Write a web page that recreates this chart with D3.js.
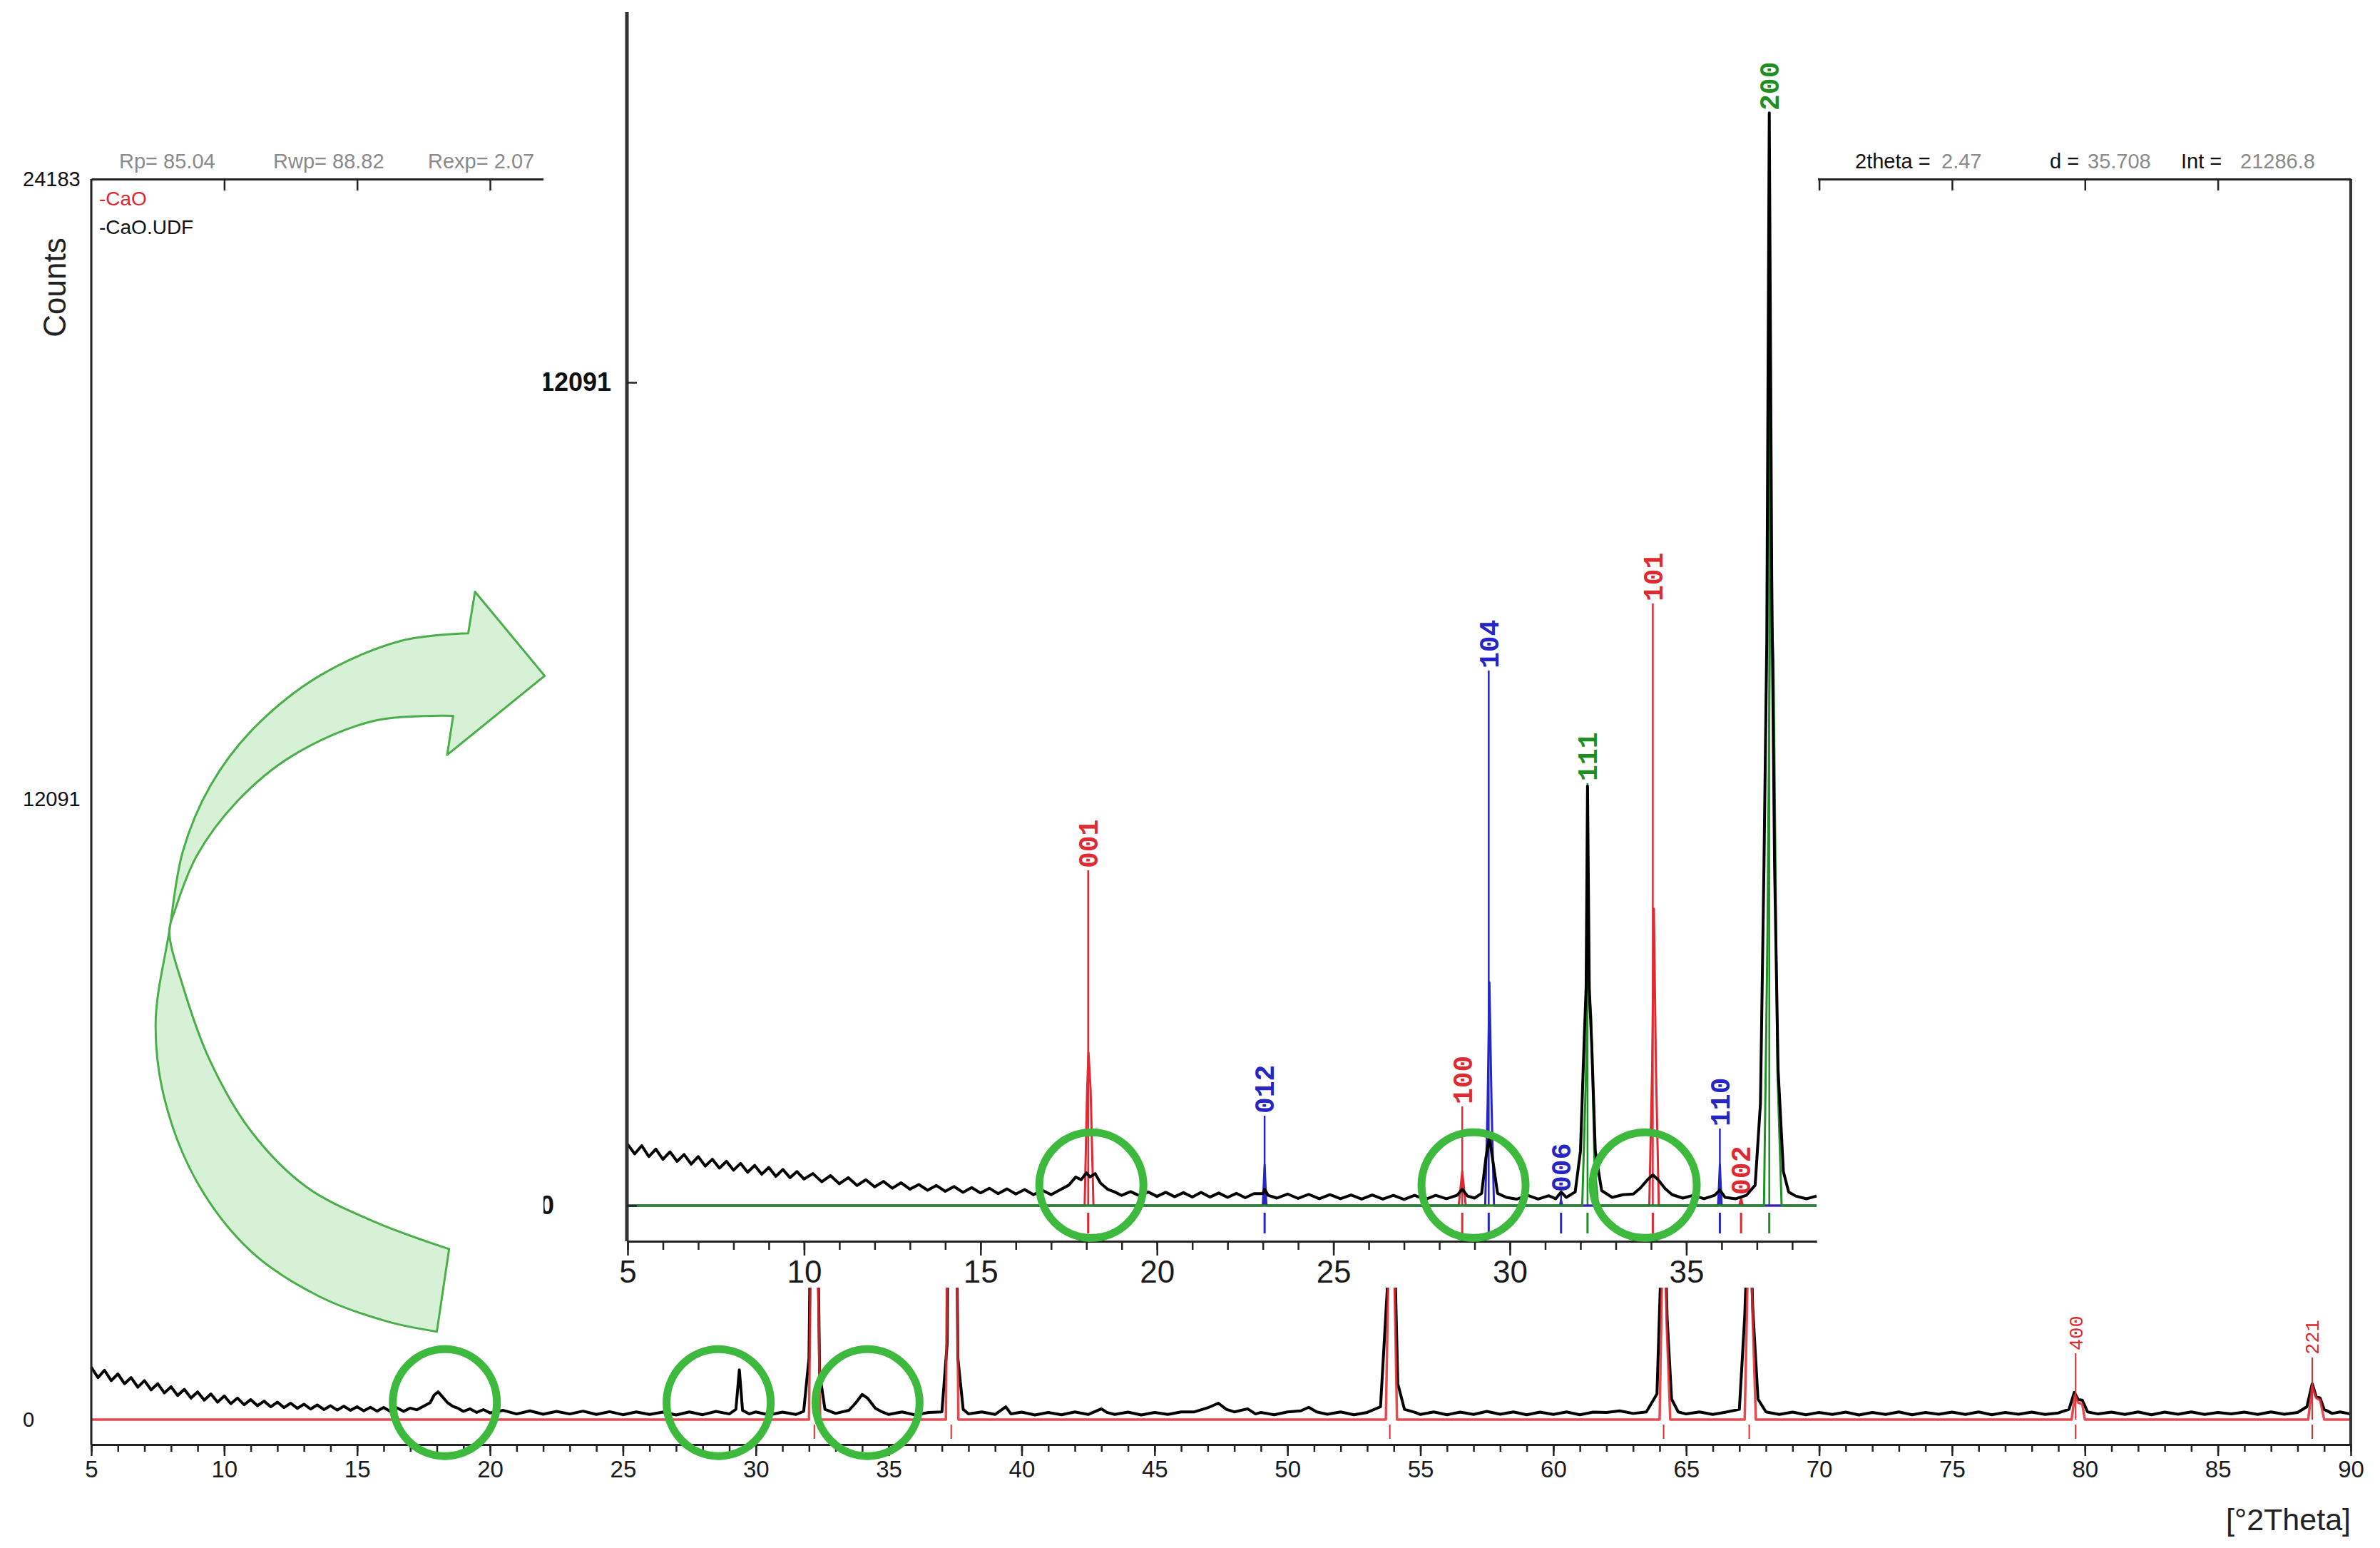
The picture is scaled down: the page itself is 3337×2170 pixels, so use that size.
<!DOCTYPE html>
<html><head><meta charset="utf-8">
<script src="https://cdn.jsdelivr.net/npm/d3@7"></script>
<style>html,body{margin:0;padding:0;background:#fff;} svg{display:block;}</style>
</head><body>
<svg id="chart" width="3337" height="2170"></svg>
<script>
// ---------------- DATA ----------------
// Main pattern (5-90 deg 2theta), observed counts [2theta, counts]
const mainObserved = [
[5.0,1020],[5.25,820],[5.5,960],[5.75,760],[6.0,890],[6.25,700],[6.5,820],[6.75,630],[7.0,760],[7.25,580],[7.5,700],[7.75,520],[8.0,640],[8.25,470],[8.5,590],[8.75,420],[9.0,540],[9.25,380],[9.5,500],[9.75,340],[10.0,460],[10.25,310],[10.5,420],[10.75,290],[11.0,390],[11.25,270],[11.5,360],[11.75,250],[12.0,340],[12.25,235],[12.5,320],[12.75,220],[13.0,300],[13.25,205],[13.5,285],[13.75,195],[14.0,270],[14.25,185],[14.5,260],[14.75,180],[15.0,250],[15.25,170],[15.5,240],[15.75,165],[16.0,235],[16.25,160],[16.5,230],[16.75,160],[17.0,225],[17.25,190],[17.5,260],[17.75,330],[17.9,480],[18.05,540],[18.2,450],[18.4,330],[18.6,260],[18.8,220],[19.0,160],[19.25,210],[19.5,140],[19.75,195],[20.0,130],[20.5,180],[21.0,110],[21.5,170],[22.0,105],[22.5,160],[23.0,110],[23.5,165],[24.0,100],[24.5,155],[25.0,95],[25.5,150],[26.0,100],[26.5,145],[27.0,90],[27.5,150],[28.0,95],[28.5,160],[29.0,110],[29.25,200],[29.38,970],[29.5,180],[29.75,110],[30.0,150],[30.5,90],[31.0,145],[31.5,100],[31.8,160],[32.0,1200],[32.1,6000],[32.2,14000],[32.3,5000],[32.4,900],[32.6,200],[33.0,120],[33.5,180],[33.75,320],[34.0,490],[34.2,420],[34.5,220],[34.75,150],[35.0,100],[35.5,150],[36.0,90],[36.5,140],[37.0,150],[37.2,1500],[37.3,12000],[37.38,21287],[37.48,9000],[37.6,1200],[37.8,200],[38.0,110],[38.5,150],[39.0,100],[39.4,250],[39.6,110],[40.0,145],[40.5,90],[41.0,140],[41.5,95],[42.0,150],[42.5,100],[43.0,210],[43.2,140],[43.5,100],[44.0,145],[44.5,90],[45.0,140],[45.5,100],[46.0,150],[46.5,150],[47.0,230],[47.4,320],[47.7,200],[48.0,150],[48.5,210],[48.8,110],[49.0,140],[49.5,95],[50.0,150],[50.5,170],[50.8,240],[51.1,150],[51.5,105],[52.0,150],[52.5,95],[53.0,140],[53.5,250],[53.75,2500],[53.88,9500],[54.0,4000],[54.15,700],[54.4,200],[54.8,140],[55.0,100],[55.5,150],[56.0,95],[56.5,145],[57.0,100],[57.5,160],[58.0,105],[58.5,150],[59.0,95],[59.5,145],[60.0,100],[60.5,150],[61.0,95],[61.5,145],[62.0,140],[62.5,170],[63.0,120],[63.5,150],[63.9,500],[64.05,3000],[64.15,5000],[64.28,2000],[64.45,400],[64.7,150],[65.0,110],[65.5,150],[66.0,100],[66.5,145],[67.0,200],[67.2,2000],[67.38,4500],[67.5,2200],[67.7,400],[68.0,150],[68.5,100],[69.0,145],[69.5,95],[70.0,140],[70.5,100],[71.0,145],[71.5,90],[72.0,140],[72.5,100],[73.0,150],[73.5,95],[74.0,140],[74.5,105],[75.0,145],[75.5,100],[76.0,150],[76.5,95],[77.0,140],[77.5,105],[78.0,145],[78.5,100],[79.0,130],[79.4,200],[79.6,530],[79.75,390],[79.9,380],[80.1,150],[80.5,110],[81.0,145],[81.5,100],[82.0,150],[82.5,95],[83.0,145],[83.5,105],[84.0,150],[84.5,100],[85.0,140],[85.5,110],[86.0,145],[86.5,100],[87.0,150],[87.5,105],[88.0,140],[88.35,250],[88.55,700],[88.7,450],[88.85,420],[89.0,200],[89.3,120],[89.6,150],[90.0,110]
];
// Main pattern, calculated CaO profile [2theta, counts]
const mainCalculated = [
[5,0],[32.0,0],[32.1,5000],[32.2,13500],[32.3,4500],[32.42,0],[37.15,0],[37.28,9000],[37.38,20500],[37.5,7000],[37.62,0],[53.7,0],[53.8,3000],[53.88,9000],[54.0,3500],[54.12,0],[64.0,0],[64.08,2500],[64.15,4800],[64.27,1800],[64.4,0],[67.2,0],[67.3,2500],[67.38,4300],[67.5,2000],[67.62,0],[79.5,0],[79.62,480],[79.75,330],[79.9,300],[80.0,0],[88.4,0],[88.55,650],[88.7,420],[88.85,380],[89.0,0],[90,0]
];
// CaO reference reflections in main pattern
const mainRefPositions = [32.2, 37.35, 53.85, 64.15, 67.37, 79.65, 88.55];
const mainStickPositions = [79.65, 88.55];
const mainStickHeights = [1293, 1210];
const mainStickLabels = ["400", "221"];
const mainYTicks = [0, 12091, 24183];
const mainXMajor = d3.range(5, 91, 5);
const mainHighlights = [[18.3, 330], [28.6, 330], [34.2, 330]];

// Inset pattern (5-38.7 deg 2theta)
const insetObserved = [
[5.0,900],[5.2,760],[5.4,880],[5.6,720],[5.8,830],[6.0,680],[6.2,790],[6.4,650],[6.6,750],[6.8,610],[7.0,720],[7.2,580],[7.4,680],[7.6,550],[7.8,650],[8.0,520],[8.2,620],[8.4,490],[8.6,590],[8.8,460],[9.0,560],[9.2,430],[9.4,530],[9.6,410],[9.8,500],[10.0,390],[10.25,470],[10.5,350],[10.75,440],[11.0,320],[11.25,410],[11.5,295],[11.75,380],[12.0,275],[12.25,355],[12.5,255],[12.75,335],[13.0,240],[13.25,310],[13.5,225],[13.75,295],[14.0,210],[14.25,280],[14.5,195],[14.75,265],[15.0,185],[15.25,255],[15.5,175],[15.75,245],[16.0,170],[16.25,235],[16.5,160],[16.75,225],[17.0,160],[17.25,230],[17.5,300],[17.7,420],[17.85,380],[18.0,480],[18.1,420],[18.25,470],[18.4,330],[18.6,240],[18.8,200],[19.0,150],[19.25,205],[19.5,145],[19.75,200],[20.0,135],[20.25,195],[20.5,130],[20.75,190],[21.0,125],[21.25,195],[21.5,125],[21.75,185],[22.0,120],[22.25,180],[22.5,115],[22.75,175],[23.0,175],[23.05,240],[23.15,150],[23.4,110],[23.7,170],[24.0,105],[24.3,165],[24.6,100],[24.9,160],[25.2,100],[25.5,155],[25.8,95],[26.1,155],[26.4,95],[26.7,150],[27.0,90],[27.3,150],[27.6,90],[27.9,150],[28.2,100],[28.5,150],[28.65,240],[28.8,140],[29.0,110],[29.2,180],[29.32,700],[29.42,1000],[29.52,650],[29.65,180],[29.9,120],[30.2,95],[30.5,150],[30.8,95],[31.1,145],[31.3,100],[31.45,200],[31.6,120],[31.85,200],[32.0,800],[32.1,2350],[32.16,3200],[32.2,6160],[32.25,3200],[32.32,2350],[32.42,800],[32.6,220],[32.9,120],[33.2,160],[33.5,170],[33.7,260],[33.9,380],[34.05,450],[34.2,380],[34.4,250],[34.6,160],[34.9,110],[35.2,150],[35.5,100],[35.8,150],[35.95,230],[36.1,120],[36.4,100],[36.7,150],[36.95,300],[37.1,1500],[37.2,5000],[37.28,8300],[37.35,16050],[37.42,9200],[37.5,5000],[37.6,2000],[37.75,500],[37.9,200],[38.1,140],[38.4,100],[38.69,140]
];
// Portlandite Ca(OH)2 (red)
const portlanditePos = [18.05, 28.65, 34.05, 36.55];
const portlanditeHkl = ["001", "100", "101", "002"];
const portlanditeStick = [4924, 1456, 8843, 126];
const portlanditeCalc = [[5,0],[17.95,0],[18.02,1690],[18.06,2250],[18.12,1690],[18.2,0],[28.55,0],[28.65,500],[28.75,0],[33.95,0],[34.03,1990],[34.08,4360],[34.14,1990],[34.22,0],[36.5,0],[36.55,100],[36.6,0],[38.69,0]];
// Calcite CaCO3 (blue)
const calcitePos = [23.05, 29.4, 31.45, 35.95];
const calciteHkl = ["012", "104", "006", "110"];
const calciteStick = [1320, 7858, 168, 1132];
const calciteCalc = [[5,0],[23.0,0],[23.05,600],[23.1,0],[29.3,0],[29.37,1500],[29.42,3280],[29.48,1500],[29.55,0],[31.42,0],[31.45,80],[31.48,0],[35.9,0],[35.95,600],[36.0,0],[38.69,0]];
// Lime CaO (green)
const limePos = [32.2, 37.35];
const limeHkl = ["111", "200"];
const limeStick = [6203, 16052];
const limeCalc = [[5,0],[32.05,0],[32.15,1800],[32.22,3300],[32.3,2800],[32.4,600],[32.5,0],[37.2,0],[37.3,4000],[37.38,9200],[37.47,8000],[37.58,2000],[37.7,0],[38.69,0]];
const insetYTicks = [0, 12091];
const insetXMajor = d3.range(5, 39, 5);
const insetHighlights = [[18.14, 300], [28.97, 300], [33.82, 300]];

// Header texts
const fitStats = ["Rp= 85.04", "Rwp= 88.82", "Rexp= 2.07"];
const cursorKeys = ["2theta =", "d =", "Int ="];
const cursorVals = ["2.47", "35.708", "21286.8"];
const legendNames = ["-CaO", "-CaO.UDF"];

// ---------------- DRAWING ----------------
const svg = d3.select("#chart");
const FONT = "'Liberation Sans', Arial, sans-serif";
const MONO = "'Liberation Mono', 'Courier New', monospace";
const RED = "#de2a33", BLUE = "#2626c4", GREEN = "#1f8f24";

const xMain = d3.scaleLinear().domain([5, 90]).range([128, 3296]);
const yMain = d3.scaleLinear().domain([0, 24183]).range([1990, 251]);
const lineMain = d3.line().x(d => xMain(d[0])).y(d => yMain(d[1]));

svg.append("rect").attr("width", 3337).attr("height", 2170).attr("fill", "#fff");

const gMain = svg.append("g");
// observed
gMain.append("path").attr("d", lineMain(mainObserved)).attr("fill", "none")
  .attr("stroke", "#000").attr("stroke-width", 4).attr("stroke-linejoin", "round");
// calculated
gMain.append("path").attr("d", lineMain(mainCalculated)).attr("fill", "none")
  .attr("stroke", RED).attr("stroke-width", 3.5).attr("stroke-opacity", 0.85).attr("stroke-linejoin", "round");
// sticks + labels
mainStickPositions.forEach((p, i) => {
  gMain.append("line").attr("x1", xMain(p)).attr("x2", xMain(p))
    .attr("y1", yMain(0)).attr("y2", yMain(mainStickHeights[i]))
    .attr("stroke", RED).attr("stroke-width", 2);
  gMain.append("text").attr("transform", `translate(${xMain(p)},${yMain(mainStickHeights[i]) - 4}) rotate(-90)`)
    .attr("dy", "0.35em").attr("text-anchor", "start").attr("font-family", MONO)
    .attr("font-size", 27).attr("fill", RED).text(mainStickLabels[i]);
});
// reference ticks
gMain.selectAll(".mref").data(mainRefPositions).enter().append("line")
  .attr("x1", d => xMain(d)).attr("x2", d => xMain(d)).attr("y1", 1997).attr("y2", 2017)
  .attr("stroke", RED).attr("stroke-width", 2);

// frame
svg.append("line").attr("x1", 128).attr("x2", 128).attr("y1", 251).attr("y2", 2025).attr("stroke", "#222").attr("stroke-width", 3);
svg.append("line").attr("x1", 3296).attr("x2", 3296).attr("y1", 251).attr("y2", 2025).attr("stroke", "#333").attr("stroke-width", 4);

function styleAxis(g, fs) {
  g.select(".domain").attr("stroke", "#222").attr("stroke-width", 3);
  g.selectAll(".tick line").attr("stroke", "#222").attr("stroke-width", 2.5);
  g.selectAll(".tick text").attr("font-family", FONT).attr("font-size", fs).attr("fill", "#1a1a1a");
}
const axMinor = svg.append("g").attr("transform", "translate(0,2025)")
  .call(d3.axisBottom(xMain).tickValues(d3.range(5, 91, 1)).tickSize(10).tickFormat("").tickSizeOuter(0));
styleAxis(axMinor, 33);
const axMajor = svg.append("g").attr("transform", "translate(0,2025)")
  .call(d3.axisBottom(xMain).tickValues(mainXMajor).tickSize(16).tickPadding(7).tickSizeOuter(0).tickFormat(d3.format("d")));
styleAxis(axMajor, 33);
const axTop = svg.append("g").attr("transform", "translate(0,251)")
  .call(d3.axisBottom(xMain).tickValues(d3.range(10, 90, 5)).tickSize(16).tickFormat("").tickSizeOuter(0));
styleAxis(axTop, 33);
const axY = svg.append("g").attr("transform", "translate(128,0)")
  .call(d3.axisLeft(yMain).tickValues(mainYTicks).tickSize(0).tickFormat(d3.format("d")));
axY.select(".domain").remove();
axY.selectAll(".tick text").attr("text-anchor", "start").attr("x", -96)
  .attr("font-family", FONT).attr("font-size", 29).attr("fill", "#111");

// axis titles & header
svg.append("text").attr("transform", "translate(92,403) rotate(-90)").attr("text-anchor", "middle")
  .attr("font-family", FONT).attr("font-size", 44).attr("fill", "#222").text("Counts");
svg.append("text").attr("x", 3296).attr("y", 2145).attr("text-anchor", "end")
  .attr("font-family", FONT).attr("font-size", 43).attr("fill", "#222").text("[°2Theta]");
const fitX = [167, 383, 600];
fitStats.forEach((t, i) => svg.append("text").attr("x", fitX[i]).attr("y", 236)
  .attr("font-family", FONT).attr("font-size", 29).attr("fill", "#8a8a8a").text(t));
const legY = [288, 328], legC = [RED, "#111"];
legendNames.forEach((t, i) => svg.append("text").attr("x", 139).attr("y", legY[i])
  .attr("font-family", FONT).attr("font-size", 28).attr("fill", legC[i]).text(t));
const keyX = [2601, 2874, 3058], valX = [2722, 2927, 3141];
cursorKeys.forEach((t, i) => {
  svg.append("text").attr("x", keyX[i]).attr("y", 236).attr("font-family", FONT).attr("font-size", 29).attr("fill", "#111").text(t);
  svg.append("text").attr("x", valX[i]).attr("y", 236).attr("font-family", FONT).attr("font-size", 29).attr("fill", "#8a8a8a").text(cursorVals[i]);
});

// ---------------- INSET ----------------
const xIn = d3.scaleLinear().domain([5, 38.69]).range([880, 2547]);
const yIn = d3.scaleLinear().domain([0, 12091]).range([1690, 536]);
const lineIn = d3.line().x(d => xIn(d[0])).y(d => yIn(d[1]));
svg.append("clipPath").attr("id", "insetClip").append("rect")
  .attr("x", 762).attr("y", 0).attr("width", 2549 - 762).attr("height", 1805);
const gIn = svg.append("g").attr("clip-path", "url(#insetClip)");
gIn.append("rect").attr("x", 762).attr("y", 0).attr("width", 2549 - 762).attr("height", 1805).attr("fill", "#fff");

const phases = [
  { pos: portlanditePos, hkl: portlanditeHkl, stick: portlanditeStick, calc: portlanditeCalc, color: RED },
  { pos: calcitePos, hkl: calciteHkl, stick: calciteStick, calc: calciteCalc, color: BLUE },
  { pos: limePos, hkl: limeHkl, stick: limeStick, calc: limeCalc, color: GREEN }
];
phases.forEach(ph => {
  ph.pos.forEach((p, i) => {
    gIn.append("line").attr("x1", xIn(p)).attr("x2", xIn(p)).attr("y1", yIn(0)).attr("y2", yIn(ph.stick[i]))
      .attr("stroke", ph.color).attr("stroke-width", 2.5);
    gIn.append("text").attr("transform", `translate(${xIn(p)},${yIn(ph.stick[i]) - 3}) rotate(-90)`)
      .attr("dy", "0.35em").attr("text-anchor", "start").attr("font-family", MONO).attr("font-weight", "bold")
      .attr("font-size", 38).attr("fill", ph.color).text(ph.hkl[i]);
  });
});
phases.forEach(ph => {
  gIn.append("path").attr("d", lineIn(ph.calc)).attr("fill", "none").attr("stroke", ph.color)
    .attr("stroke-width", 3).attr("stroke-linejoin", "round");
});
gIn.append("path").attr("d", lineIn(insetObserved)).attr("fill", "none").attr("stroke", "#000")
  .attr("stroke-width", 4).attr("stroke-linejoin", "round");
phases.forEach(ph => {
  ph.pos.forEach(p => gIn.append("line").attr("x1", xIn(p)).attr("x2", xIn(p)).attr("y1", 1700).attr("y2", 1729)
    .attr("stroke", ph.color).attr("stroke-width", 3));
});
// inset axes
gIn.append("line").attr("x1", 879).attr("x2", 879).attr("y1", 17).attr("y2", 1740).attr("stroke", "#333").attr("stroke-width", 5);
const inMinor = gIn.append("g").attr("transform", "translate(0,1740)")
  .call(d3.axisBottom(xIn).tickValues(d3.range(5, 39, 1)).tickSize(12).tickFormat("").tickSizeOuter(0));
styleAxis(inMinor, 44);
const inMajor = gIn.append("g").attr("transform", "translate(0,1740)")
  .call(d3.axisBottom(xIn).tickValues(insetXMajor).tickSize(20).tickPadding(7).tickSizeOuter(0).tickFormat(d3.format("d")));
styleAxis(inMajor, 44);
const inY = gIn.append("g").attr("transform", "translate(879,0)")
  .call(d3.axisLeft(yIn).tickValues(insetYTicks).tickSizeInner(-14).tickSizeOuter(0).tickFormat(d3.format("d")));
inY.select(".domain").remove();
inY.selectAll(".tick line").attr("stroke", "#222").attr("stroke-width", 2.5);
inY.selectAll(".tick text").attr("text-anchor", "start").attr("x", -122)
  .attr("font-family", FONT).attr("font-size", 36).attr("font-weight", "bold").attr("fill", "#111");

// ---------------- ANNOTATIONS ----------------
const arrowOuter = [[612.5,1866.7],[543.6,1852.6],[447.9,1817.5],[352.2,1754.4],[275.7,1656],[229.8,1536.8],[218.3,1431.6],[237.4,1305.3],[256.5,1193],[294.8,1101.8],[352.2,1024.6],[447.9,947.4],[562.7,898.2],[656.5,887.7]];
const arrowHead = [[666,829.5],[763.6,947.4],[627,1058.2],[635.4,1003.5]];
const arrowInner = [[635.4,1003.5],[524.4,1010.5],[409.6,1059.6],[333.1,1122.8],[275.7,1200],[245,1277],[237.4,1305.3],[256.5,1382.5],[294.8,1487.7],[352.2,1586],[428.8,1663.2],[524.4,1712.3],[629.7,1750.9]];
const cr = d3.line().curve(d3.curveCatmullRom.alpha(0.5));
let arrowD = cr(arrowOuter) + arrowHead.map(p => "L" + p[0] + "," + p[1]).join("") + cr(arrowInner).replace(/^M/, "L") + "Z";
svg.append("path").attr("d", arrowD).attr("fill", "#d2efd2").attr("fill-opacity", 0.9)
  .attr("stroke", "#4aae4a").attr("stroke-width", 3).attr("stroke-linejoin", "round");

const CIRC = "#3dba3d";
mainHighlights.forEach(h => svg.append("ellipse").attr("cx", xMain(h[0])).attr("cy", yMain(h[1]))
  .attr("rx", 73).attr("ry", 75).attr("fill", "none").attr("stroke", CIRC).attr("stroke-width", 11));
insetHighlights.forEach(h => svg.append("ellipse").attr("cx", xIn(h[0])).attr("cy", yIn(h[1]))
  .attr("rx", 73).attr("ry", 74).attr("fill", "none").attr("stroke", CIRC).attr("stroke-width", 11));
</script>
</body></html>
